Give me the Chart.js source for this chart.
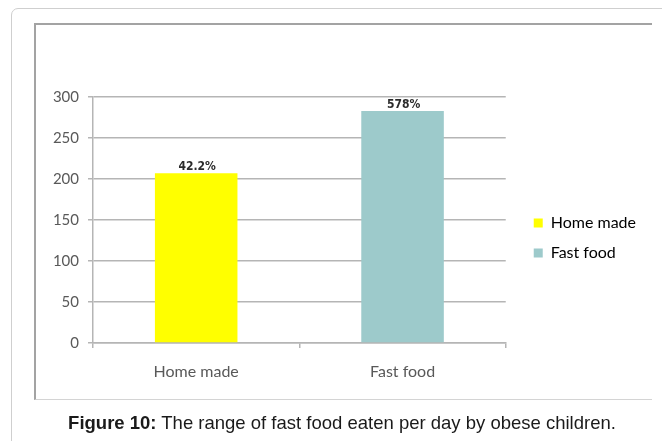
<!DOCTYPE html>
<html>
<head>
<meta charset="utf-8">
<script src="https://cdn.jsdelivr.net/npm/chart.js@4"></script>
<style>
  body { margin: 0; background: #fff; }
  .page { position: relative; width: 662px; height: 441px; overflow: hidden; }
  .card { position: absolute; left: 11px; top: 8px; width: 700px; height: 460px;
          border: 1px solid #cfcfcf; border-radius: 7px; }
  .frame { position: absolute; left: 34px; top: 23px; width: 616px; height: 374px;
           border-top: 2px solid #a3a3a3; border-left: 2px solid #a3a3a3;
           border-bottom: 1px solid #d4d4d4; }
  #chart { position: absolute; left: 0; top: 0; }
  .caption { position: absolute; left: 34px; width: 616px; top: 412px; text-align: center;
             font-family: "Liberation Sans", Arial, sans-serif; font-size: 18.5px; color: #1a1a1a; }
</style>
</head>
<body>
<div class="page">
  <div class="card"></div>
  <div class="frame"></div>
  <canvas id="chart" width="662" height="441"></canvas>
  <div class="caption"><b>Figure 10:</b> The range of fast food eaten per day by obese children.</div>
</div>
<script>
const categories = ['Home made', 'Fast food'];
const counts = [207, 283];
const shareLabels = ['42.2%', '578%'];
const barColors = ['#ffff00', '#9dcacb'];
const yTicks = [0, 50, 100, 150, 200, 250, 300];

const axisGrey = '#b5b5b5';
const textGrey = '#595959';

// percentage text above each bar
const barLabels = {
  id: 'barLabels',
  afterDatasetsDraw(chart) {
    const ctx = chart.ctx;
    const meta = chart.getDatasetMeta(0);
    ctx.save();
    ctx.font = 'bold 12px "DejaVu Sans Condensed", "Liberation Sans Narrow", Arial, sans-serif';
    ctx.fillStyle = '#2b2b2b';
    ctx.textAlign = 'center';
    ctx.textBaseline = 'bottom';
    meta.data.forEach(function(bar, i) {
      ctx.fillText(shareLabels[i], bar.x + 1, bar.y);
    });
    ctx.restore();
  }
};

const ctx = document.getElementById('chart').getContext('2d');
const chart = new Chart(ctx, {
  type: 'bar',
  data: {
    labels: categories,
    datasets: [{
      data: counts,
      backgroundColor: barColors,
      borderWidth: 0,
      barPercentage: 0.4,
      categoryPercentage: 1
    }]
  },
  options: {
    responsive: false,
    animation: false,
    layout: { padding: { left: 40, top: 97, right: 16, bottom: 62 } },
    plugins: {
      tooltip: { enabled: false },
      legend: {
        position: 'right',
        maxWidth: 200,
        labels: {
          boxWidth: 9,
          boxHeight: 9,
          padding: 14,
          color: textGrey,
          font: { family: 'Lato, "Open Sans", sans-serif', size: 16 },
          generateLabels: function() {
            return categories.map(function(name, i) {
              return { text: name, fillStyle: barColors[i], strokeStyle: barColors[i], lineWidth: 0, index: i };
            });
          }
        }
      }
    },
    scales: {
      x: {
        grid: { drawOnChartArea: false, drawTicks: true, tickLength: 5, color: axisGrey, lineWidth: 1.5 },
        border: { color: axisGrey, width: 1.5 },
        ticks: { color: textGrey, padding: 14, font: { family: 'Lato, "Open Sans", sans-serif', size: 16 } },
        afterFit: function(scale) { scale.height = 36; }
      },
      y: {
        min: 0,
        max: 300,
        afterBuildTicks: function(scale) { scale.ticks = yTicks.map(function(v) { return { value: v }; }); },
        grid: { color: axisGrey, lineWidth: 1.5, tickLength: 5 },
        border: { color: axisGrey, width: 1.5 },
        ticks: { color: textGrey, padding: 9, font: { family: 'Lato, "Open Sans", sans-serif', size: 15 } },
        afterFit: function(scale) { scale.width = 53; }
      },
      // empty right-hand axis keeps a gap between plot and legend
      gap: {
        position: 'right',
        grid: { display: false },
        border: { display: false },
        ticks: { display: false },
        afterFit: function(scale) { scale.width = 14; }
      }
    }
  },
  plugins: [barLabels]
});
</script>
</body>
</html>
